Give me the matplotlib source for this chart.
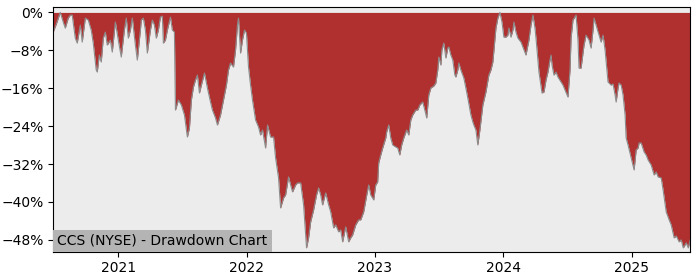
import numpy as np
import pandas as pd
import matplotlib
matplotlib.use('Agg')
import matplotlib.pyplot as plt
import matplotlib.dates as mdates
from matplotlib.ticker import PercentFormatter

# decimal year of each reading and drawdown in percent
years = [
    2020.493, 2020.517, 2020.548, 2020.571, 2020.587, 2020.610, 2020.626, 2020.641,
    2020.665, 2020.680, 2020.704, 2020.719, 2020.743, 2020.766, 2020.789, 2020.805,
    2020.828, 2020.836, 2020.852, 2020.867, 2020.883, 2020.899, 2020.914, 2020.938,
    2020.953, 2020.977, 2021.000, 2021.023, 2021.047, 2021.062, 2021.078, 2021.094,
    2021.109, 2021.133, 2021.148, 2021.172, 2021.179, 2021.195, 2021.211, 2021.226,
    2021.250, 2021.265, 2021.281, 2021.296, 2021.312, 2021.328, 2021.343, 2021.351,
    2021.367, 2021.382, 2021.406, 2021.421, 2021.437, 2021.445, 2021.468, 2021.491,
    2021.515, 2021.538, 2021.554, 2021.569, 2021.585, 2021.601, 2021.616, 2021.632,
    2021.647, 2021.671, 2021.694, 2021.718, 2021.733, 2021.757, 2021.772, 2021.796,
    2021.819, 2021.842, 2021.858, 2021.874, 2021.897, 2021.913, 2021.928, 2021.936,
    2021.952, 2021.967, 2021.983, 2021.998, 2022.014, 2022.030, 2022.045, 2022.069,
    2022.092, 2022.108, 2022.123, 2022.147, 2022.162, 2022.186, 2022.209, 2022.225,
    2022.248, 2022.264, 2022.287, 2022.303, 2022.326, 2022.342, 2022.357, 2022.381,
    2022.396, 2022.420, 2022.443, 2022.466, 2022.482, 2022.498, 2022.521, 2022.544,
    2022.560, 2022.576, 2022.591, 2022.615, 2022.638, 2022.654, 2022.677, 2022.693,
    2022.716, 2022.732, 2022.747, 2022.771, 2022.794, 2022.810, 2022.825, 2022.849,
    2022.872, 2022.888, 2022.911, 2022.935, 2022.950, 2022.966, 2022.989, 2023.005,
    2023.020, 2023.028, 2023.044, 2023.059, 2023.083, 2023.090, 2023.106, 2023.122,
    2023.137, 2023.161, 2023.176, 2023.192, 2023.207, 2023.223, 2023.246, 2023.262,
    2023.278, 2023.293, 2023.317, 2023.332, 2023.348, 2023.371, 2023.387, 2023.402,
    2023.418, 2023.434, 2023.457, 2023.473, 2023.488, 2023.496, 2023.512, 2023.520,
    2023.535, 2023.551, 2023.566, 2023.574, 2023.590, 2023.605, 2023.621, 2023.629,
    2023.644, 2023.652, 2023.668, 2023.691, 2023.707, 2023.722, 2023.746, 2023.761,
    2023.769, 2023.785, 2023.800, 2023.816, 2023.839, 2023.863, 2023.886, 2023.902,
    2023.917, 2023.941, 2023.956, 2023.972, 2023.988, 2024.003, 2024.019, 2024.034,
    2024.042, 2024.058, 2024.073, 2024.081, 2024.097, 2024.112, 2024.136, 2024.151,
    2024.175, 2024.190, 2024.198, 2024.214, 2024.229, 2024.245, 2024.253, 2024.268,
    2024.276, 2024.300, 2024.315, 2024.331, 2024.346, 2024.362, 2024.370, 2024.378,
    2024.393, 2024.409, 2024.424, 2024.448, 2024.463, 2024.479, 2024.502, 2024.518,
    2024.526, 2024.541, 2024.565, 2024.580, 2024.588, 2024.604, 2024.627, 2024.643,
    2024.666, 2024.682, 2024.697, 2024.705, 2024.721, 2024.736, 2024.760, 2024.775,
    2024.791, 2024.814, 2024.838, 2024.853, 2024.869, 2024.877, 2024.892, 2024.900,
    2024.916, 2024.931, 2024.947, 2024.955, 2024.970, 2024.994, 2025.017, 2025.033,
    2025.048, 2025.056, 2025.072, 2025.095, 2025.111, 2025.126, 2025.150, 2025.173,
    2025.189, 2025.204, 2025.228, 2025.243, 2025.267, 2025.290, 2025.306, 2025.329,
    2025.345, 2025.368, 2025.384, 2025.400, 2025.423, 2025.439, 2025.454,
]
drawdown = [
    -4.15, -2.47, 0.00, -2.04, -3.31, -1.20, -0.57, -0.57,
    -5.42, -6.47, -2.68, -6.26, -1.20, -1.62, -3.73, -6.47,
    -12.16, -12.58, -9.00, -10.48, -5.42, -4.15, -6.89, -5.84,
    -8.37, -2.04, -5.84, -9.42, -3.73, -1.20, -5.42, -3.73,
    -1.20, -6.89, -10.06, -3.73, -1.62, -1.20, -3.73, -8.58,
    -3.73, -1.62, -2.68, -5.42, -3.73, -0.99, -0.78, -6.47,
    -5.84, -3.73, -0.99, -3.73, -4.15, -20.60, -18.49, -19.54,
    -21.65, -26.29, -24.39, -18.49, -15.75, -14.27, -13.22, -17.01,
    -15.33, -12.80, -15.96, -18.91, -20.60, -22.28, -23.76, -21.65,
    -18.49, -15.33, -12.16, -10.69, -11.53, -7.95, -2.68, -1.20,
    -8.58, -5.84, -3.73, -4.36, -11.53, -15.33, -18.49, -22.70,
    -24.18, -25.87, -24.81, -28.61, -23.76, -26.29, -26.29, -30.72,
    -34.93, -41.26, -39.15, -38.51, -34.72, -36.41, -37.88, -36.41,
    -35.98, -35.98, -40.62, -49.69, -47.58, -44.21, -41.68, -38.51,
    -37.04, -38.51, -40.62, -38.09, -40.62, -42.10, -45.47, -44.84,
    -46.31, -45.89, -48.42, -45.26, -48.42, -47.58, -46.95, -44.84,
    -43.78, -43.78, -42.10, -38.51, -36.41, -38.51, -39.57, -36.41,
    -35.77, -31.77, -30.08, -28.61, -26.50, -25.23, -23.76, -26.50,
    -27.97, -28.39, -28.61, -30.08, -27.97, -26.50, -24.81, -25.87,
    -22.70, -21.65, -20.60, -20.60, -19.54, -18.91, -20.60, -22.28,
    -17.43, -15.96, -15.54, -14.90, -12.16, -9.42, -11.11, -7.95,
    -6.47, -9.63, -7.53, -7.31, -9.00, -10.06, -13.22, -13.64,
    -12.16, -10.69, -12.16, -13.85, -15.96, -18.07, -21.65, -23.12,
    -23.76, -24.81, -27.97, -24.81, -19.54, -16.80, -13.22, -12.16,
    -10.48, -3.31, -1.20, 0.00, -2.04, -5.21, -5.21, -4.79,
    -3.31, -5.21, -3.73, -2.04, -4.15, -5.42, -6.26, -7.31,
    -9.00, -6.89, -5.84, -2.68, -0.57, -3.31, -5.42, -10.06,
    -12.58, -17.01, -16.80, -14.27, -12.58, -10.06, -9.00, -11.11,
    -13.22, -12.58, -13.64, -14.69, -15.33, -16.38, -17.86, -12.16,
    -5.42, -1.62, -0.57, -5.84, -11.74, -11.74, -6.89, -4.79,
    -5.84, -7.53, -3.73, -1.20, -2.68, -4.15, -6.26, -4.79,
    -7.95, -14.69, -15.33, -15.12, -17.43, -18.91, -15.96, -14.90,
    -15.33, -17.43, -21.65, -26.50, -27.97, -30.71, -33.24, -29.03,
    -28.61, -27.55, -27.55, -29.45, -30.08, -31.14, -32.19, -34.30,
    -33.67, -34.72, -34.93, -37.46, -42.10, -43.78, -44.84, -47.58,
    -47.16, -48.42, -48.00, -49.69, -48.63, -49.69, -48.00,
]
title = 'CCS (NYSE) - Drawdown Chart'

yr = np.array(years)
dates = pd.Timestamp('2021-01-01') + pd.to_timedelta((yr - 2021) * 365.25, unit='D')
dd = np.array(drawdown)

fig = plt.figure(figsize=(7, 2.8), dpi=100)
ax = fig.add_axes([0.076, 0.101, 0.910, 0.875])
ax.set_facecolor('#ececec')
ax.fill_between(dates, dd, 0, color='#b03030', lw=0)
ax.plot(dates, dd, color='#8c8c8c', lw=0.8)

ax.set_xlim(dates[0], dates[-1])
ax.set_ylim(-50.5, 1.2)
ax.set_yticks(np.arange(0, -49, -8))
ax.yaxis.set_major_formatter(PercentFormatter(100, decimals=0))
ax.xaxis.set_major_locator(mdates.YearLocator())
ax.xaxis.set_major_formatter(mdates.DateFormatter('%Y'))

ax.text(0.0065, 0.016, title, transform=ax.transAxes, fontsize=10, ha='left', va='bottom',
        bbox=dict(facecolor='#b4b4b4', edgecolor='none', pad=3))

fig.savefig('out.png', dpi=100)
